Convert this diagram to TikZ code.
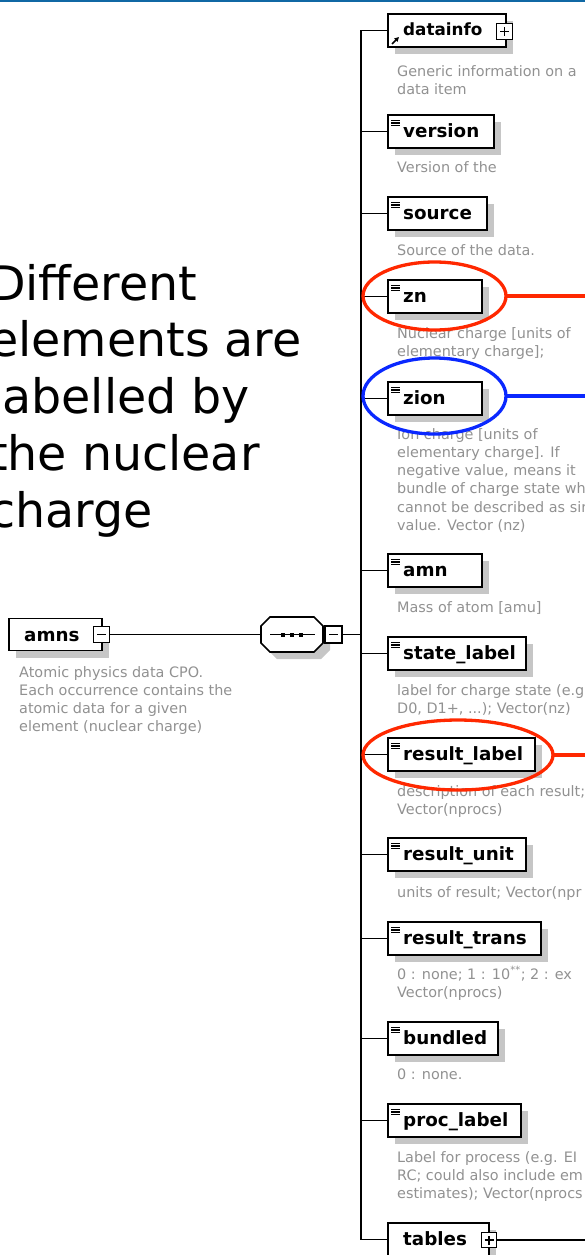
\documentclass[tikz,border=0pt]{standalone}
\usepackage{fontspec}
\setmainfont{DejaVu Sans}
\usetikzlibrary{shapes.geometric,shadows,calc,arrows.meta}

\definecolor{descgray}{RGB}{145,145,145}
\definecolor{shadowgray}{RGB}{198,198,198}
\definecolor{ringred}{RGB}{255,40,0}
\definecolor{ringblue}{RGB}{10,40,255}
\definecolor{topblue}{RGB}{16,104,164}

% multi-line text whose baseline is the first line's baseline
\newcommand{\lines}[1]{\begin{tabular}[t]{@{}l@{}}#1\end{tabular}}
% the three-bar marker in the top-left corner of a simple element
\newcommand{\listicon}[1]{%
  \draw[line width=1.1pt]
    ([shift={(3pt,-5.5pt)}]#1.north west) -- ++(8.5pt,0pt)
    ([shift={(3pt,-8pt)}]#1.north west) -- ++(8.5pt,0pt)
    ([shift={(3pt,-10.5pt)}]#1.north west) -- ++(8.5pt,0pt);}

\begin{document}
\begin{tikzpicture}[x=1pt,y=-1pt,
  elembox/.style={draw=black, line width=1.7pt, fill=white, rectangle,
    inner sep=0pt, outer sep=0pt, minimum height=33pt, anchor=north west,
    drop shadow={shadow xshift=7pt, shadow yshift=-7pt, fill=shadowgray, opacity=1}},
  elemname/.style={anchor=base west, inner sep=0pt,
    font=\fontsize{18.3}{22}\selectfont\bfseries},
  elemdesc/.style={anchor=base west, inner sep=0pt, text=descgray,
    font=\fontsize{14.4}{18.3}\selectfont},
  togglebox/.style={draw=black, line width=1.3pt, fill=white,
    minimum size=15.5pt, inner sep=0pt, outer sep=0pt},
  plusbox/.style={togglebox, path picture={
    \draw[line width=1.1pt]
      ([xshift=-4.5pt]path picture bounding box.center) -- ([xshift=4.5pt]path picture bounding box.center)
      ([yshift=-4.5pt]path picture bounding box.center) -- ([yshift=4.5pt]path picture bounding box.center);}},
  minusbox/.style={togglebox, path picture={
    \draw[line width=1.1pt]
      ([xshift=-4.5pt]path picture bounding box.center) -- ([xshift=4.5pt]path picture bounding box.center);}},
  wire/.style={line width=1.6pt},
  markring/.style={ellipse, draw, line width=3.3pt, inner sep=0pt, outer sep=0pt},
  ringline/.style={line width=3.3pt},
]
\useasboundingbox (0,0) rectangle (585,1255);
\clip (0,0) rectangle (585,1255);

% header rule
\fill[topblue] (0,0) rectangle (585,2.2);

% annotation text
\node[anchor=base west, inner sep=0pt, font=\fontsize{47.5}{56.75}\selectfont] (note)
  at (-11,300) {\lines{Different\\elements are\\labelled by\\the nuclear\\charge}};

% root element
\node[elembox, minimum width=93pt, minimum height=32pt] (amns) at (9,618.5) {};
\node[elemname] (amns-name) at (24,641) {amns};
\node[minusbox] (amns-tog) at (101.5,634.5) {};
\node[elemdesc] (amns-desc) at (19,677)
  {\lines{Atomic physics data CPO.\\Each occurrence contains the\\atomic data for a given\\element (nuclear charge)}};

% sequence compositor
\node[inner sep=0pt, outer sep=0pt, minimum width=62pt, minimum height=35pt] (seq) at (292,634.5) {};
\newcommand{\octagonpath}{
  ([xshift=9pt]seq.north west) -- ([xshift=-9pt]seq.north east) --
  ([yshift=-9pt]seq.north east) -- ([yshift=9pt]seq.south east) --
  ([xshift=-9pt]seq.south east) -- ([xshift=9pt]seq.south west) --
  ([yshift=9pt]seq.south west) -- ([yshift=-9pt]seq.north west) -- cycle}
\begin{scope}[transform canvas={shift={(7pt,-7pt)}}]
  \fill[shadowgray] \octagonpath;
\end{scope}
\draw[line width=1.7pt, fill=white] \octagonpath;
\draw[line width=1.3pt] ([xshift=-22pt]seq.center) -- ([xshift=23pt]seq.center);
\foreach \dx in {-9,0,9}
  \fill ([shift={(\dx pt-2pt,-2pt)}]seq.center) rectangle ++(4pt,4pt);
\node[minusbox, minimum size=17pt] (seq-tog) at (333.5,634.5) {};

\draw[wire] (amns-tog.east) -- (seq.west);

% child elements
\node[elembox, minimum width=118pt] (datainfo) at (388,14) {};
\node[elemname, font=\fontsize{16.8}{20}\selectfont\bfseries] (datainfo-name) at (403,36) {datainfo};
\node[plusbox] (datainfo-tog) at (504.5,31.5) {};
\draw[line width=1.6pt, -{Triangle[length=4.5pt,width=4.5pt]}]
  ([shift={(4pt,3pt)}]datainfo.south west) -- ([shift={(11pt,10pt)}]datainfo.south west);
\node[elemdesc] (datainfo-desc) at (397,76) {\lines{Generic information on a\\data item}};

\node[elembox, minimum width=106pt] (version) at (388,115) {};
\listicon{version}
\node[elemname] (version-name) at (403,137.5) {version};
\node[elemdesc] (version-desc) at (397,172) {Version of the};

\node[elembox, minimum width=99pt] (source) at (388,197) {};
\listicon{source}
\node[elemname] (source-name) at (403,219.5) {source};
\node[elemdesc] (source-desc) at (397,255) {Source of the data.};

\node[elembox, minimum width=94pt] (zn) at (388,280) {};
\listicon{zn}
\node[elemname] (zn-name) at (403,302.5) {zn};
\node[elemdesc] (zn-desc) at (397,338) {\lines{Nuclear charge [units of\\elementary charge];}};

\node[elembox, minimum width=94pt] (zion) at (388,382) {};
\listicon{zion}
\node[elemname] (zion-name) at (403,404.5) {zion};
\node[elemdesc] (zion-desc) at (397,439)
  {\lines{Ion charge [units of\\elementary charge]. If\\negative value, means it\\bundle of charge state wh\\cannot be described as sin\\value. Vector (nz)}};

\node[elembox, minimum width=94pt] (amn) at (388,554) {};
\listicon{amn}
\node[elemname] (amn-name) at (403,576.5) {amn};
\node[elemdesc] (amn-desc) at (397,612) {Mass of atom [amu]};

\node[elembox, minimum width=138pt] (statelabel) at (388,637) {};
\listicon{statelabel}
\node[elemname] (statelabel-name) at (403,659.5) {state\_label};
\node[elemdesc] (statelabel-desc) at (397,695) {\lines{label for charge state (e.g\\D0, D1+, ...); Vector(nz)}};

\node[elembox, minimum width=147pt] (resultlabel) at (388,738) {};
\listicon{resultlabel}
\node[elemname] (resultlabel-name) at (403,760.5) {result\_label};
\node[elemdesc] (resultlabel-desc) at (397,796) {\lines{description of each result;\\Vector(nprocs)}};

\node[elembox, minimum width=138pt] (resultunit) at (388,838) {};
\listicon{resultunit}
\node[elemname] (resultunit-name) at (403,860.5) {result\_unit};
\node[elemdesc] (resultunit-desc) at (397,897) {units of result; Vector(npr};

\node[elembox, minimum width=153pt] (resulttrans) at (388,922) {};
\listicon{resulttrans}
\node[elemname] (resulttrans-name) at (403,944.5) {result\_trans};
\node[elemdesc] (resulttrans-desc) at (397,979) {\lines{0 : none; 1 : 10\textsuperscript{**}; 2 : ex\\Vector(nprocs)}};

\node[elembox, minimum width=110pt] (bundled) at (388,1022) {};
\listicon{bundled}
\node[elemname] (bundled-name) at (403,1044.5) {bundled};
\node[elemdesc] (bundled-desc) at (397,1079) {0 : none.};

\node[elembox, minimum width=133pt] (proclabel) at (388,1104) {};
\listicon{proclabel}
\node[elemname] (proclabel-name) at (403,1126.5) {proc\_label};
\node[elemdesc] (proclabel-desc) at (397,1162) {\lines{Label for process (e.g. EI\\RC; could also include em\\estimates); Vector(nprocs}};

\node[elembox, minimum width=101pt] (tables) at (388,1223) {};
\node[elemname] (tables-name) at (403,1245) {tables};
\node[plusbox] (tables-tog) at (489,1240) {};
\coordinate (tables-out) at (590,1240);
\draw[wire] (tables-tog.east) -- (tables-out);

% sequence spine and branches
\coordinate (spinetop) at ($(datainfo.west)+(-27pt,0pt)$);
\coordinate (spinebot) at ($(tables.west)+(-27pt,0pt)$);
\draw[wire] (spinetop) -- (spinebot);
\draw[wire] (seq-tog.east) -- (seq-tog.east -| spinetop);
\foreach \n in {datainfo,version,source,zn,zion,amn,statelabel,resultlabel,resultunit,resulttrans,bundled,proclabel,tables}
  \draw[wire] (\n.west -| spinetop) -- (\n.west);

% highlight rings
\node[markring, draw=ringred, minimum width=143pt, minimum height=68pt] (zn-ring) at (434.5,296) {};
\coordinate (zn-out) at (590,296);
\draw[ringline, ringred] (zn-ring.east) -- (zn-out);

\node[markring, draw=ringblue, minimum width=143pt, minimum height=76pt] (zion-ring) at (434.5,396) {};
\coordinate (zion-out) at (590,396);
\draw[ringline, ringblue] (zion-ring.east) -- (zion-out);

\node[markring, draw=ringred, minimum width=190pt, minimum height=70pt] (resultlabel-ring) at (458,755) {};
\coordinate (resultlabel-out) at (590,755);
\draw[ringline, ringred] (resultlabel-ring.east) -- (resultlabel-out);
\end{tikzpicture}
\end{document}
